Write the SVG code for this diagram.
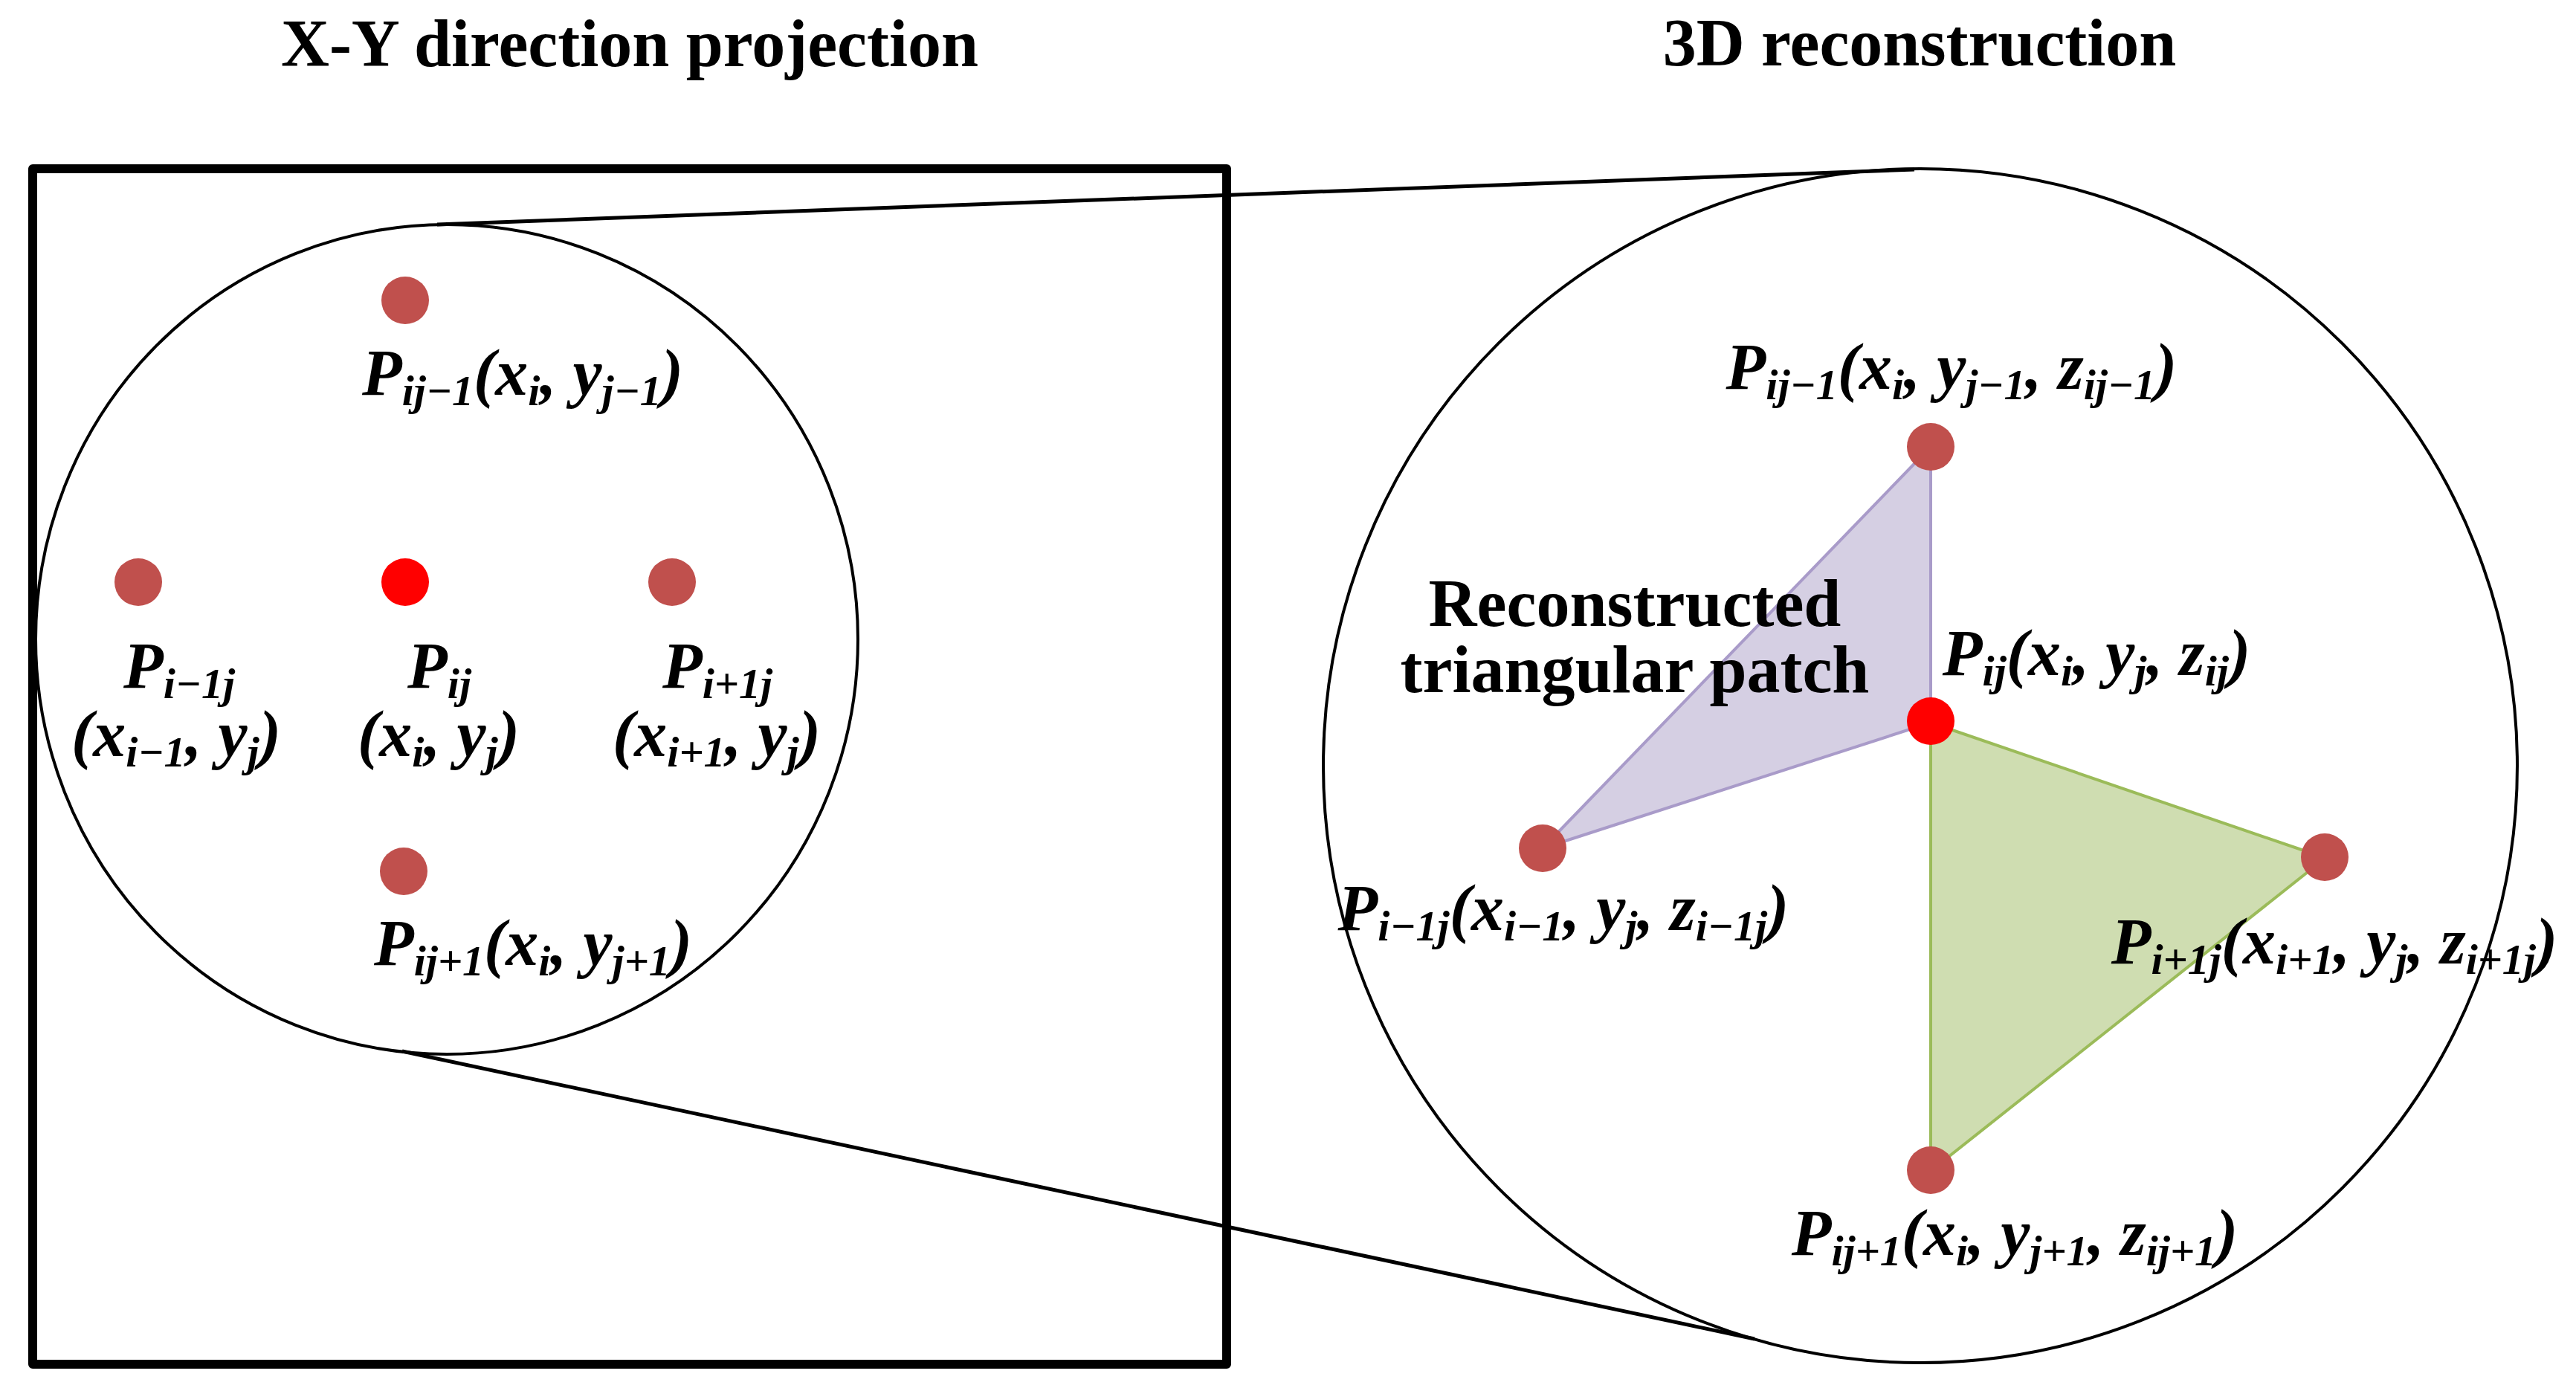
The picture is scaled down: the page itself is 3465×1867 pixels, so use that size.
<svg xmlns="http://www.w3.org/2000/svg" width="3465" height="1867" viewBox="0 0 3465 1867">
<style>
.frame{fill:none;stroke:#000;stroke-width:12;stroke-linejoin:round}
.outline{fill:none;stroke:#000;stroke-width:4}
.conn{fill:none;stroke:#000;stroke-width:5}
.dot{fill:#C0504D}
.dotc{fill:#FF0000}
.tri1{fill:#D5CFE3;stroke:#A99BC9;stroke-width:4;stroke-linejoin:round}
.tri2{fill:#CFDDB1;stroke:#9BBB59;stroke-width:4;stroke-linejoin:round}
.title{font-family:"Liberation Serif","Times New Roman",serif;font-weight:bold;font-size:90px;text-anchor:middle;fill:#000}
.lbl{font-family:"Liberation Serif","Times New Roman",serif;font-weight:bold;font-style:italic;font-size:88px;text-anchor:middle;fill:#000}
.sub{font-size:58px}
</style>
<rect width="3465" height="1867" fill="#fff"/>
<text class="title" x="847" y="89">X-Y direction projection</text>
<text class="title" x="2582" y="88">3D reconstruction</text>

<g id="xy-panel">
<rect class="frame" x="44" y="227" width="1606" height="1608"/>
<ellipse class="outline" cx="601" cy="860" rx="553" ry="558"/>
</g>
<g id="recon-panel">
<circle class="outline" cx="2583" cy="1030" r="803"/>
</g>

<g id="connectors">
<line class="conn" x1="588" y1="302" x2="2575" y2="228"/>
<line class="conn" x1="541" y1="1414" x2="2360" y2="1801"/>
</g>

<g id="patch-purple"><polygon class="tri1" points="2597,601 2597,972 2075,1141"/></g>
<g id="patch-green"><polygon class="tri2" points="2597,972 3128,1154 2597,1575"/></g>

<g id="xy-p-ij-1">
<circle class="dot" cx="545" cy="404" r="32"/>
<text class="lbl" x="703" y="531">P<tspan class="sub" dy="14">ij−1</tspan><tspan dy="-14">(x</tspan><tspan class="sub" dy="14">i</tspan><tspan dy="-14">, y</tspan><tspan class="sub" dy="14">j−1</tspan><tspan dy="-14">)</tspan></text>
</g>
<g id="xy-p-i-1j">
<circle class="dot" cx="186" cy="783" r="32"/>
<text class="lbl" x="241" y="925">P<tspan class="sub" dy="14">i−1j</tspan></text>
<text class="lbl" x="237" y="1017">(x<tspan class="sub" dy="14">i−1</tspan><tspan dy="-14">, y</tspan><tspan class="sub" dy="14">j</tspan><tspan dy="-14">)</tspan></text>
</g>
<g id="xy-p-ij">
<circle class="dotc" cx="545" cy="783" r="32"/>
<text class="lbl" x="591" y="925">P<tspan class="sub" dy="14">ij</tspan></text>
<text class="lbl" x="590" y="1017">(x<tspan class="sub" dy="14">i</tspan><tspan dy="-14">, y</tspan><tspan class="sub" dy="14">j</tspan><tspan dy="-14">)</tspan></text>
</g>
<g id="xy-p-i+1j">
<circle class="dot" cx="904" cy="783" r="32"/>
<text class="lbl" x="965" y="925">P<tspan class="sub" dy="14">i+1j</tspan></text>
<text class="lbl" x="964" y="1017">(x<tspan class="sub" dy="14">i+1</tspan><tspan dy="-14">, y</tspan><tspan class="sub" dy="14">j</tspan><tspan dy="-14">)</tspan></text>
</g>
<g id="xy-p-ij+1">
<circle class="dot" cx="543" cy="1172" r="32"/>
<text class="lbl" x="717" y="1298">P<tspan class="sub" dy="14">ij+1</tspan><tspan dy="-14">(x</tspan><tspan class="sub" dy="14">i</tspan><tspan dy="-14">, y</tspan><tspan class="sub" dy="14">j+1</tspan><tspan dy="-14">)</tspan></text>
</g>

<g id="patch-label">
<text class="title" x="2199" y="842">Reconstructed</text>
<text class="title" x="2199" y="931">triangular patch</text>
</g>

<g id="r-p-ij-1">
<circle class="dot" cx="2597" cy="601" r="32"/>
<text class="lbl" x="2625" y="523">P<tspan class="sub" dy="14">ij−1</tspan><tspan dy="-14">(x</tspan><tspan class="sub" dy="14">i</tspan><tspan dy="-14">, y</tspan><tspan class="sub" dy="14">j−1</tspan><tspan dy="-14">, z</tspan><tspan class="sub" dy="14">ij−1</tspan><tspan dy="-14">)</tspan></text>
</g>
<g id="r-p-ij">
<circle class="dotc" cx="2597" cy="970" r="32"/>
<text class="lbl" x="2820" y="908">P<tspan class="sub" dy="14">ij</tspan><tspan dy="-14">(x</tspan><tspan class="sub" dy="14">i</tspan><tspan dy="-14">, y</tspan><tspan class="sub" dy="14">j</tspan><tspan dy="-14">, z</tspan><tspan class="sub" dy="14">ij</tspan><tspan dy="-14">)</tspan></text>
</g>
<g id="r-p-i-1j">
<circle class="dot" cx="2075" cy="1141" r="32"/>
<text class="lbl" x="2103" y="1251">P<tspan class="sub" dy="14">i−1j</tspan><tspan dy="-14">(x</tspan><tspan class="sub" dy="14">i−1</tspan><tspan dy="-14">, y</tspan><tspan class="sub" dy="14">j</tspan><tspan dy="-14">, z</tspan><tspan class="sub" dy="14">i−1j</tspan><tspan dy="-14">)</tspan></text>
</g>
<g id="r-p-i+1j">
<circle class="dot" cx="3127" cy="1153" r="32"/>
<text class="lbl" x="3140" y="1296">P<tspan class="sub" dy="14">i+1j</tspan><tspan dy="-14">(x</tspan><tspan class="sub" dy="14">i+1</tspan><tspan dy="-14">, y</tspan><tspan class="sub" dy="14">j</tspan><tspan dy="-14">, z</tspan><tspan class="sub" dy="14">i+1j</tspan><tspan dy="-14">)</tspan></text>
</g>
<g id="r-p-ij+1">
<circle class="dot" cx="2597" cy="1574" r="32"/>
<text class="lbl" x="2710" y="1688">P<tspan class="sub" dy="14">ij+1</tspan><tspan dy="-14">(x</tspan><tspan class="sub" dy="14">i</tspan><tspan dy="-14">, y</tspan><tspan class="sub" dy="14">j+1</tspan><tspan dy="-14">, z</tspan><tspan class="sub" dy="14">ij+1</tspan><tspan dy="-14">)</tspan></text>
</g>
</svg>
